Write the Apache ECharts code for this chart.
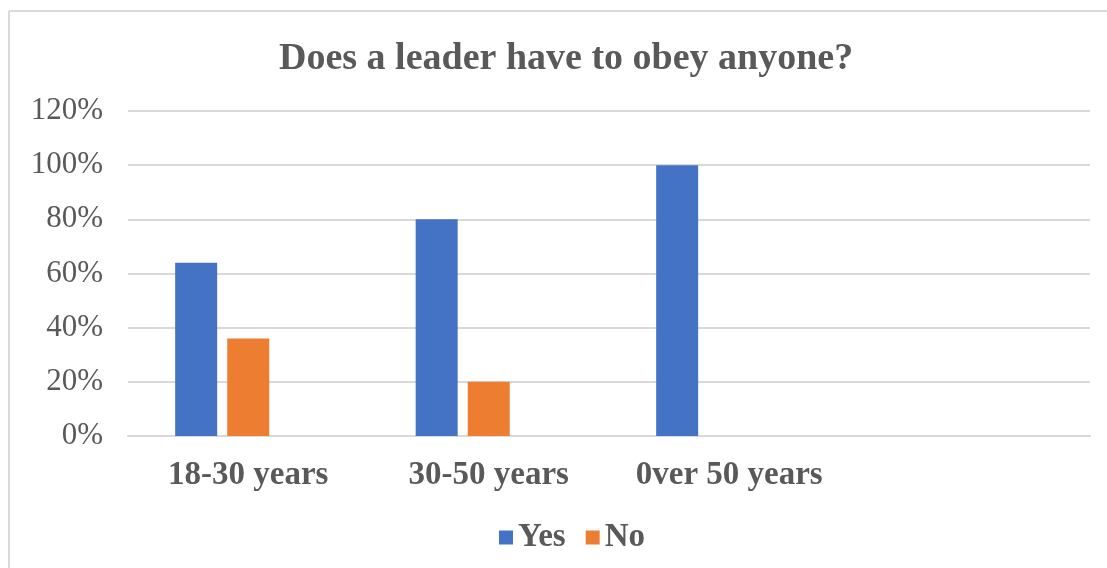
<!DOCTYPE html>
<html>
<head>
<meta charset="utf-8">
<script src="https://cdn.jsdelivr.net/npm/echarts@6/dist/echarts.min.js"></script>
<style>
html,body{margin:0;padding:0;background:#fff;}
#chart{width:1107px;height:568px;}
</style>
</head>
<body>
<div id="chart"></div>
<script>
var categories = ['18-30 years', '30-50 years', '0ver 50 years', ''];
var yesValues = [64, 80, 100, '-'];
var noValues = [36, 20, 0, '-'];
var blankValues = ['-', '-', '-', '-']; // empty third series, keeps excel's spacing
var yTicks = [0, 20, 40, 60, 80, 100, 120];

var serif = '"Liberation Serif", "Times New Roman", serif';
var mychart = echarts.init(document.getElementById('chart'));
var option = {
	animation: false,
	graphic: [
		// chart border (top + left only visible)
		{type: 'line', shape: {x1: 9, y1: 11, x2: 1107, y2: 11}, style: {stroke: '#d9d9d9', lineWidth: 2}},
		{type: 'line', shape: {x1: 9, y1: 11, x2: 9, y2: 568}, style: {stroke: '#d9d9d9', lineWidth: 2}}
	],
	title: {
		text: 'Does a leader have to obey anyone?',
		left: 274,
		top: 35,
		textStyle: {fontFamily: serif, fontSize: 38, fontWeight: 'bold', color: '#595959'}
	},
	legend: {
		data: ['Yes', 'No'],
		left: 494,
		top: 516,
		itemWidth: 14,
		itemHeight: 14,
		itemGap: 20,
		icon: 'rect',
		textStyle: {fontFamily: serif, fontSize: 33, fontWeight: 'bold', color: '#595959'}
	},
	grid: {left: 128, right: 17, top: 111, bottom: 132},
	xAxis: {
		type: 'category',
		data: categories,
		axisLine: {lineStyle: {color: '#d9d9d9', width: 2}},
		axisTick: {show: false},
		axisLabel: {margin: 23, fontFamily: serif, fontSize: 33, fontWeight: 'bold', color: '#595959', interval: 0}
	},
	yAxis: {
		type: 'value',
		min: yTicks[0],
		max: yTicks[yTicks.length - 1],
		interval: 20,
		axisLine: {show: false},
		axisTick: {show: false},
		splitLine: {lineStyle: {color: '#d9d9d9', width: 2}},
		axisLabel: {margin: 25, fontFamily: serif, fontSize: 31, color: '#595959', formatter: '{value}%'}
	},
	series: [
		{name: 'Yes', type: 'bar', data: yesValues, barWidth: 42, barGap: '24%', itemStyle: {color: '#4472c4'}},
		{name: 'No', type: 'bar', data: noValues, barWidth: 42, barGap: '24%', itemStyle: {color: '#ed7d31'}},
		{name: 'blank', type: 'bar', data: blankValues, barWidth: 42, barGap: '24%', itemStyle: {color: '#a5a5a5'}}
	]
};
mychart.setOption(option);
</script>
</body>
</html>
